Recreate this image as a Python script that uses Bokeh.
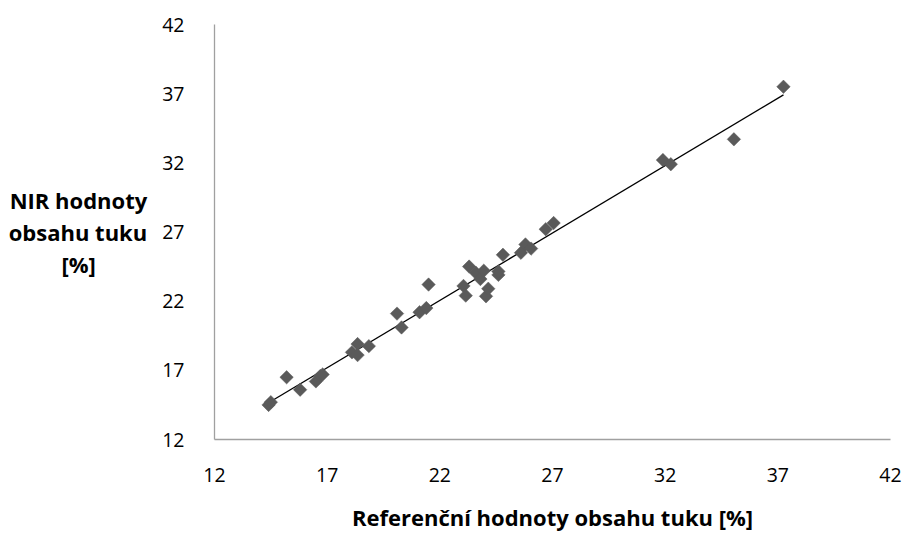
import numpy as np
from bokeh.plotting import figure
from bokeh.models import Range1d, FixedTicker, ColumnDataSource
from bokeh.embed import file_html
from bokeh.resources import INLINE

# Data
x_ref = [14.4, 14.5, 15.2, 15.8, 16.5, 16.7, 16.8, 18.1, 18.35, 18.35, 18.85,
         20.1, 20.3, 21.1, 21.4, 21.5, 23.05, 23.15, 23.3, 23.6, 23.8, 23.95,
         24.05, 24.15, 24.6, 24.6, 24.8, 25.6, 25.8, 26.05, 26.7, 27.05,
         31.9, 32.25, 35.05, 37.25]
y_nir = [14.5, 14.7, 16.5, 15.6, 16.2, 16.6, 16.7, 18.3, 18.1, 18.9, 18.75,
         21.1, 20.1, 21.2, 21.5, 23.2, 23.1, 22.4, 24.5, 24.05, 23.6, 24.2,
         22.35, 22.9, 23.9, 24.15, 25.35, 25.5, 26.1, 25.8, 27.2, 27.65,
         32.2, 31.9, 33.7, 37.5]
x_ticks = [12, 17, 22, 27, 32, 37, 42]
y_ticks = [12, 17, 22, 27, 32, 37, 42]

x_title = "Referenční hodnoty obsahu tuku [%]"
# last line padded with non-breaking spaces so it sits centred under the others
y_title = "NIR hodnoty\nobsahu tuku\n[%]" + "\u00a0" * 9

FONT = "Open Sans"
AXIS_GREY = "#a0a0a0"
MARK = "#5a5a5a"

p = figure(width=905, height=534, output_backend="svg", toolbar_location=None,
           x_range=Range1d(12, 42), y_range=Range1d(12, 42),
           min_border_left=214, min_border_right=15, min_border_top=24,
           min_border_bottom=87)
p.outline_line_color = None
p.xgrid.grid_line_color = None
p.ygrid.grid_line_color = None
p.background_fill_color = "white"
p.border_fill_color = "white"

for ax, ticks in ((p.xaxis, x_ticks), (p.yaxis, y_ticks)):
    ax.ticker = FixedTicker(ticks=ticks)
    ax.axis_line_color = AXIS_GREY
    ax.axis_line_width = 1.3
    ax.major_tick_line_color = None
    ax.minor_tick_line_color = None
    ax.major_label_text_font = FONT
    ax.major_label_text_font_size = "19.5px"
    ax.major_label_text_color = "black"
    ax.axis_label_text_font = FONT
    ax.axis_label_text_font_style = "bold"
    ax.axis_label_text_font_size = "22px"
    ax.axis_label_text_color = "black"

p.xaxis.major_label_standoff = 22
p.yaxis.major_label_standoff = 24

p.xaxis.axis_label = x_title
p.xaxis.axis_label_standoff = 17

p.yaxis.axis_label = y_title
p.yaxis.axis_label_orientation = "horizontal"
p.yaxis.axis_label_text_align = "center"
p.yaxis.axis_label_text_line_height = 1.08
p.yaxis.axis_label_standoff = 12

# trend line (linear least-squares fit over the data range)
slope, intercept = np.polyfit(x_ref, y_nir, 1)
xl = [min(x_ref), max(x_ref)]
yl = [slope * v + intercept for v in xl]
p.line(xl, yl, line_color="black", line_width=1.3)

src = ColumnDataSource(dict(x=x_ref, y=y_nir))
p.scatter("x", "y", source=src, marker="square", angle=np.pi / 4, size=9.5,
          fill_color=MARK, line_color=MARK, line_width=0.5)

open("out.html", "w").write(file_html(p, INLINE))
